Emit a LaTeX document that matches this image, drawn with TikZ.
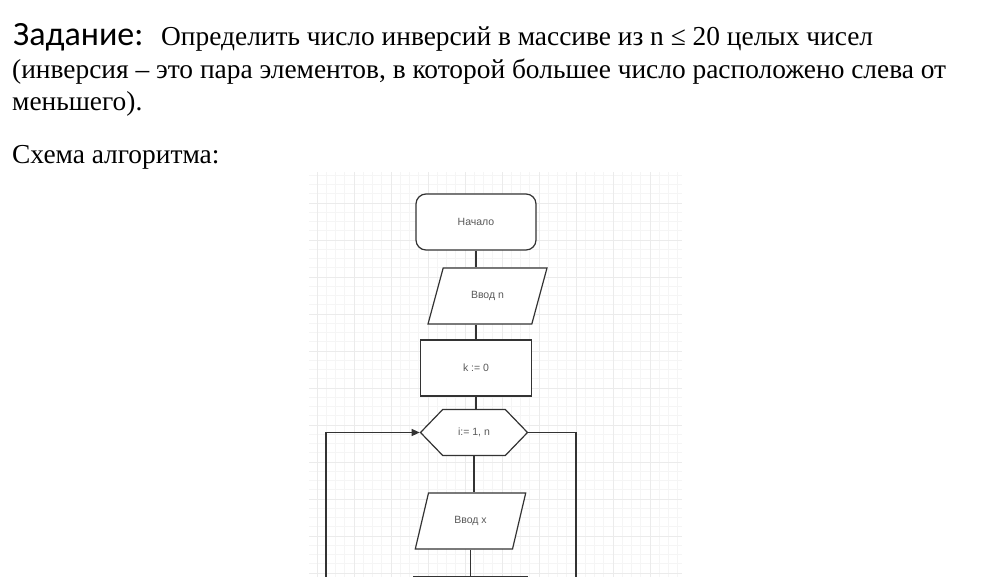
\documentclass[tikz,border=0pt]{standalone}
\usepackage{fontspec}
\setmainfont{Liberation Serif}
\newfontfamily\titlefont{Carlito}
\newfontfamily\boxfont{Liberation Sans}
\usetikzlibrary{positioning,shapes.geometric,shapes.symbols,arrows.meta}
\tikzset{line/.style={draw=black!80, line width=1.2pt}}
\tikzset{arrow/.style={line, -{Triangle[length=8pt,width=7pt]}}}

\begin{document}
\begin{tikzpicture}[x=1pt, y=-1pt,
  minor/.style={draw=black!4, line width=0.7pt},
  major/.style={draw=black!8, line width=0.9pt},
  main/.style={draw=black!80, line width=1.2pt, fill=white, text=black!65, font=\boxfont\fontsize{10.5}{12}\selectfont},
  term/.style={main, rounded corners=10pt, minimum width=120, minimum height=56},
  proc/.style={main, minimum width=111, minimum height=56},
  io/.style={main, trapezium, trapezium stretches=true, minimum height=56},
  hex/.style={main, signal, signal to=west and east, signal pointer angle=92, minimum width=107, minimum height=46},
  txt/.style={anchor=base west, inner sep=0pt, font=\fontsize{27.4}{32}\selectfont}]
\useasboundingbox (0,0) rectangle (1000,577);
% task text
\node[anchor=base west, inner sep=0pt, font=\titlefont\fontsize{34}{40}\selectfont] (title) at (13,46) {Задание:};
\node[txt] (l1) at (161,46) {Определить число инверсий в массиве из n ≤ 20 целых чисел};
\node[txt] (l2) at (12,79) {(инверсия – это пара элементов, в которой большее число расположено слева от};
\node[txt] (l3) at (12,111) {меньшего).};
\node[txt] (l4) at (12,164) {Схема алгоритма:};
% grid
\begin{scope}
\clip (309,172) rectangle (682,577);
\foreach \i in {0,...,40} \draw[minor] ({307.75+\i*9.25},172) -- ++(0,405);
\foreach \i in {0,...,44} \draw[minor] (309,{166+\i*9.25}) -- ++(373,0);
\foreach \i in {0,...,10} \draw[major] ({317+\i*37},172) -- ++(0,405);
\foreach \i in {0,...,11} \draw[major] (309,{166+\i*37}) -- ++(373,0);
\end{scope}
% flowchart
\node[term] (start) at (476,222) {Начало};
\node[io, trapezium left angle=67, trapezium right angle=113, minimum width=119] (inn) at (487.5,296) {Ввод n};
\node[proc] (k0) at (476,368) {k := 0};
\node[hex] (loop) at (474,432.5) {i:= 1, n};
\node[io, trapezium left angle=69, trapezium right angle=111, minimum width=111] (inx) at (470.5,521) {Ввод x};
\node[proc, minimum width=113, anchor=north] (next) at (470.5,575.5) {};
\coordinate (backl) at (326,577);
\coordinate (outr) at (576,577);
\draw[line] (start.south) -- (start.south |- inn.north);
\draw[line] (k0.north |- inn.south) -- (k0.north);
\draw[line] (k0.south) -- (k0.south |- loop.north);
\draw[line] (loop.south) -- (loop.south |- inx.north);
\draw[line] (inx.south) -- (inx.south |- next.north);
\draw[arrow] (backl) |- (loop.west);
\draw[line] (loop.east) -| (outr);
\end{tikzpicture}
\end{document}
